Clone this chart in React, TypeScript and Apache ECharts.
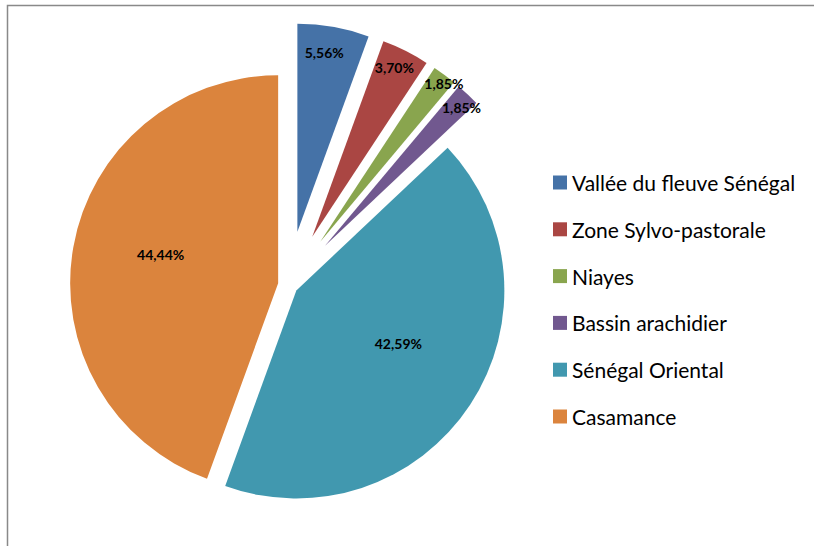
import { useEffect, useRef } from "react";
import * as echarts from "echarts";

// ---- data ----
const categories = [
  "Vallée du fleuve Sénégal",
  "Zone Sylvo-pastorale",
  "Niayes",
  "Bassin arachidier",
  "Sénégal Oriental",
  "Casamance",
];
const shares = [5.56, 3.7, 1.85, 1.85, 42.59, 44.44];

// ---- styling ----
const colors = ["#4572A7", "#AA4643", "#89A54E", "#71588F", "#4198AF", "#DB843D"];
const farExploded = [true, true, true, true, false, false];
const R = 208;
const CENTER = [288, 285];
const labelRadius = [178, 185, 198, 191, 112, 118];
const labelAngleShift = [-1.5, -0.8, 1.3, 1.4, -6, 4];

const fmt = (v: number) => v.toFixed(2).replace(".", ",") + "%";

export default function App() {
  const ref = useRef<HTMLDivElement>(null);
  useEffect(() => {
    if (!ref.current) return;
    const chart = echarts.init(ref.current, undefined, { renderer: "svg" });
    const total = shares.reduce((a, b) => a + b, 0);
    const mids: number[] = [];
    let acc = 0;
    shares.forEach((v) => {
      mids.push(((acc + v / 2) / total) * Math.PI * 2);
      acc += v;
    });

    const makeSeries = (far: boolean, offset: number) => ({
      type: "pie",
      center: CENTER,
      radius: R,
      startAngle: 90,
      clockwise: true,
      selectedMode: "multiple",
      selectedOffset: offset,
      avoidLabelOverlap: false,
      emphasis: { disabled: true, scale: false },
      label: {
        show: true,
        position: "inside",
        formatter: (p: any) => fmt(p.value),
        fontFamily: "Lato",
        fontWeight: "bold",
        fontSize: 14,
        color: "#000",
      },
      labelLine: { show: false },
      labelLayout: (p: any) => {
        const i = p.dataIndex;
        const m = mids[i];
        const a = m + (labelAngleShift[i] * Math.PI) / 180;
        const L = labelRadius[i];
        const h = R / 2;
        return {
          dx: L * Math.sin(a) - h * Math.sin(m),
          dy: -(L * Math.cos(a) - h * Math.cos(m)),
        };
      },
      data: categories.map((name, i) => {
        const mine = farExploded[i] === far;
        return {
          name,
          value: shares[i],
          selected: mine,
          itemStyle: { color: colors[i], opacity: mine ? 1 : 0 },
          label: { show: mine },
        };
      }),
    });

    chart.setOption({
      animation: false,
      backgroundColor: "#fff",
      graphic: [
        {
          type: "rect",
          shape: { x: 7.5, y: 5.5, width: 1200, height: 1200 },
          style: { fill: "none", stroke: "#898989", lineWidth: 1.5 },
          silent: true,
        },
      ],
      legend: {
        orient: "vertical",
        left: 548,
        top: 167,
        itemWidth: 14,
        itemHeight: 14,
        itemGap: 25.8,
        icon: "rect",
        selectedMode: false,
        textStyle: { fontFamily: "Lato", fontSize: 21, lineHeight: 20, color: "#000" },
        data: categories.map((name, i) => ({ name, itemStyle: { color: colors[i], opacity: 1 } })),
      },
      series: [makeSeries(true, 54), makeSeries(false, 10)],
    });
    return () => chart.dispose();
  }, []);
  return (
    <div
      ref={ref}
      style={{ position: "fixed", left: 0, top: 0, width: 814, height: 546, background: "#fff" }}
    />
  );
}
